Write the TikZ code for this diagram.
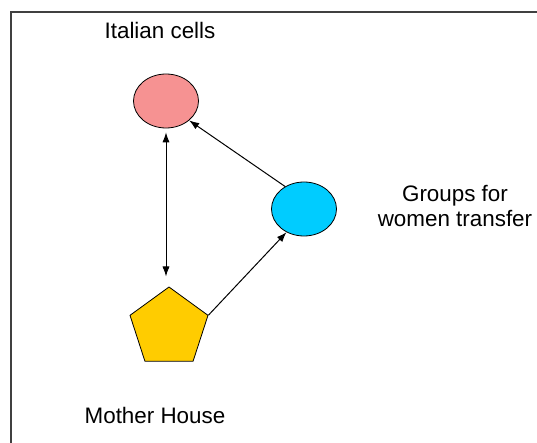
\documentclass[tikz,border=0pt]{standalone}
\usepackage{fontspec}
\setmainfont{Liberation Sans}
\usetikzlibrary{shapes.geometric,arrows.meta}

\tikzset{
    lbl/.style={font=\fontsize{11.2}{12.5}\selectfont, align=center, inner sep=0pt},
    blob/.style={ellipse, draw, thin, inner sep=0pt, minimum width=32.5pt, minimum height=27pt},
}

\begin{document}
\begin{tikzpicture}[>={Latex[length=5pt,width=3.6pt]}, x=0.5pt, y=-0.5pt]
        \useasboundingbox (0,0) rectangle (537,443);
        \draw[line width=1pt, black!75] (11,443) -- (11,12) -- (537,12);

        \node[blob, fill={rgb,255:red,246;green,146;blue,146}] (italy) at (166,101) {};
        \node[blob, fill={rgb,255:red,0;green,204;blue,255}] (groups) at (304,209) {};
        \node[regular polygon, regular polygon sides=5, draw, thin, inner sep=0pt,
              minimum size=41pt, fill={rgb,255:red,255;green,204;blue,0}] (house) at (169,328) {};

        \node[lbl] (italyLbl) at (160,30) {Italian cells};
        \node[lbl] (groupsLbl) at (455,206) {Groups for\\women transfer};
        \node[lbl] (houseLbl) at (155,415) {Mother House};

        \draw[<->, line width=0.5pt, shorten <=2pt, shorten >=5pt] (italy.south) -- (italy.south |- house.north);
        \draw[->, line width=0.5pt] (house.corner 5) -- (groups.233);
        \draw[->, line width=0.5pt] (groups.130) -- (italy.320);
    \end{tikzpicture}
\end{document}
